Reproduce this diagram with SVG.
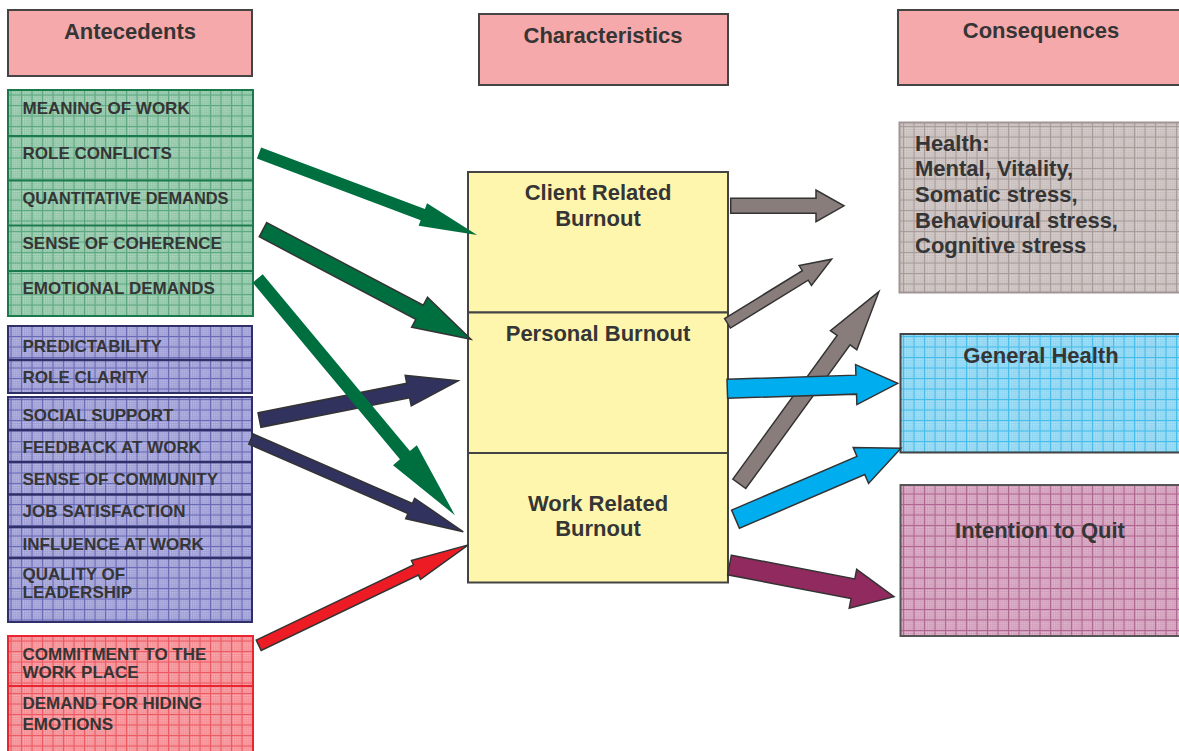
<svg xmlns="http://www.w3.org/2000/svg" width="1179" height="751" viewBox="0 0 1179 751">
<defs>
<style>
text{font-family:"Liberation Sans",Arial,sans-serif;font-weight:bold;fill:#353535}
.hd{font-size:22px;text-anchor:middle}
.it{font-size:17px}
.ct{font-size:22px;text-anchor:middle}
.lt{font-size:22px;text-anchor:start}
.hdbox{fill:#f6a9ab;stroke:#444;stroke-width:2}
.ybox{fill:#fff6ae;stroke:#444;stroke-width:2}
.gdiv{stroke:#1b7a4c;stroke-width:2}
.bdiv{stroke:#2f2f6a;stroke-width:2.5}
.rdiv{stroke:#e82530;stroke-width:2}
.arr{stroke:#333;stroke-width:1.5;stroke-linejoin:miter}
</style>
<pattern id="dots" width="2" height="2" patternUnits="userSpaceOnUse"><rect width="1" height="1" fill="#fff" opacity="0.55"/></pattern>
<pattern id="pGreen" width="10.5" height="10.5" patternUnits="userSpaceOnUse"><rect width="10.5" height="10.5" fill="#84c09e"/><rect width="10.5" height="10.5" fill="url(#dots)"/><path d="M0 0.5H10.5M0.5 0V10.5" stroke="#5ea881" stroke-width="1"/></pattern>
<pattern id="pBlue" width="10.5" height="10.5" patternUnits="userSpaceOnUse"><rect width="10.5" height="10.5" fill="#9494d2"/><rect width="10.5" height="10.5" fill="url(#dots)"/><path d="M0 0.5H10.5M0.5 0V10.5" stroke="#6a6ab6" stroke-width="1"/></pattern>
<pattern id="pRed" width="10.5" height="10.5" patternUnits="userSpaceOnUse"><rect width="10.5" height="10.5" fill="#f48289"/><rect width="10.5" height="10.5" fill="url(#dots)"/><path d="M0 0.5H10.5M0.5 0V10.5" stroke="#ec5a62" stroke-width="1"/></pattern>
<pattern id="pGray" width="10.5" height="10.5" patternUnits="userSpaceOnUse"><rect width="10.5" height="10.5" fill="#c2b8b6"/><rect width="10.5" height="10.5" fill="url(#dots)"/><path d="M0 0.5H10.5M0.5 0V10.5" stroke="#a89c9a" stroke-width="1"/></pattern>
<pattern id="pCyan" width="10.5" height="10.5" patternUnits="userSpaceOnUse"><rect width="10.5" height="10.5" fill="#80d1f1"/><rect width="10.5" height="10.5" fill="url(#dots)"/><path d="M0 0.5H10.5M0.5 0V10.5" stroke="#45bdea" stroke-width="1"/></pattern>
<pattern id="pPink" width="10.5" height="10.5" patternUnits="userSpaceOnUse"><rect width="10.5" height="10.5" fill="#cd93b4"/><rect width="10.5" height="10.5" fill="url(#dots)"/><path d="M0 0.5H10.5M0.5 0V10.5" stroke="#b06690" stroke-width="1"/></pattern>
</defs>
<rect width="1179" height="751" fill="#fff"/>

<g id="header-antecedents"><rect class="hdbox" x="8" y="10" width="244" height="66"/><text class="hd" x="130" y="38.5">Antecedents</text></g>
<g id="header-characteristics"><rect class="hdbox" x="479" y="14" width="249" height="71"/><text class="hd" x="603" y="43">Characteristics</text></g>
<g id="header-consequences"><rect class="hdbox" x="898" y="10" width="290" height="75"/><text class="hd" x="1041" y="37.5">Consequences</text></g>

<g id="antecedents-green">
<rect x="8" y="90" width="245" height="226" fill="url(#pGreen)" stroke="#1b7a4c" stroke-width="2"/>
<line class="gdiv" x1="8" y1="136" x2="253" y2="136"/><line class="gdiv" x1="8" y1="180.5" x2="253" y2="180.5"/><line class="gdiv" x1="8" y1="225.5" x2="253" y2="225.5"/><line class="gdiv" x1="8" y1="271" x2="253" y2="271"/>
<g id="meaning-of-work"><text class="it" x="22.5" y="113.5">MEANING OF WORK</text></g>
<g id="role-conflicts"><text class="it" x="22.5" y="159">ROLE CONFLICTS</text></g>
<g id="quantitative-demands"><text class="it" x="22.5" y="203.5" textLength="206" lengthAdjust="spacingAndGlyphs">QUANTITATIVE DEMANDS</text></g>
<g id="sense-of-coherence"><text class="it" x="22.5" y="248.5">SENSE OF COHERENCE</text></g>
<g id="emotional-demands"><text class="it" x="22.5" y="294">EMOTIONAL DEMANDS</text></g>
</g>

<g id="antecedents-blue-1">
<rect x="8" y="326" width="244" height="67" fill="url(#pBlue)" stroke="#2f2f6a" stroke-width="2"/>
<line class="bdiv" x1="8" y1="360" x2="252" y2="360"/>
<g id="predictability"><text class="it" x="22.5" y="351.5">PREDICTABILITY</text></g>
<g id="role-clarity"><text class="it" x="22.5" y="383">ROLE CLARITY</text></g>
</g>

<g id="antecedents-blue-2">
<rect x="8" y="397" width="244" height="225" fill="url(#pBlue)" stroke="#2f2f6a" stroke-width="2"/>
<line class="bdiv" x1="8" y1="430" x2="252" y2="430"/><line class="bdiv" x1="8" y1="462" x2="252" y2="462"/><line class="bdiv" x1="8" y1="494.5" x2="252" y2="494.5"/><line class="bdiv" x1="8" y1="527" x2="252" y2="527"/><line class="bdiv" x1="8" y1="558" x2="252" y2="558" stroke-width="4.5"/>
<g id="social-support"><text class="it" x="22.5" y="421">SOCIAL SUPPORT</text></g>
<g id="feedback-at-work"><text class="it" x="22.5" y="453">FEEDBACK AT WORK</text></g>
<g id="sense-of-community"><text class="it" x="22.5" y="484.5">SENSE OF COMMUNITY</text></g>
<g id="job-satisfaction"><text class="it" x="22.5" y="517">JOB SATISFACTION</text></g>
<g id="influence-at-work"><text class="it" x="22.5" y="549.5">INFLUENCE AT WORK</text></g>
<g id="quality-of-leadership"><text class="it" x="22.5" y="579.5">QUALITY OF</text><text class="it" x="22.5" y="598">LEADERSHIP</text></g>
</g>

<g id="antecedents-red">
<rect x="8" y="636" width="245" height="130" fill="url(#pRed)" stroke="#e82530" stroke-width="2"/>
<line class="rdiv" x1="8" y1="686" x2="253" y2="686"/>
<g id="commitment"><text class="it" x="22.5" y="659.5">COMMITMENT TO THE</text><text class="it" x="22.5" y="678">WORK PLACE</text></g>
<g id="hiding-emotions"><text class="it" x="22.5" y="708.5">DEMAND FOR HIDING</text><text class="it" x="22.5" y="729.5">EMOTIONS</text></g>
</g>

<g id="client-related-burnout"><rect class="ybox" x="468" y="172" width="260" height="140.5"/><text class="ct" x="598" y="200">Client Related</text><text class="ct" x="598" y="225.5">Burnout</text></g>
<g id="personal-burnout"><rect class="ybox" x="468" y="312.5" width="260" height="140.5"/><text class="ct" x="598" y="341">Personal Burnout</text></g>
<g id="work-related-burnout"><rect class="ybox" x="468" y="453" width="260" height="129.5"/><text class="ct" x="598" y="510.5">Work Related</text><text class="ct" x="598" y="536">Burnout</text></g>

<g id="health"><rect x="899.5" y="122.5" width="290" height="170" fill="url(#pGray)" stroke="#a09594" stroke-width="2"/>
<text class="lt" x="915" y="150.7">Health:</text>
<text class="lt" x="915" y="176.3">Mental, Vitality,</text>
<text class="lt" x="915" y="202">Somatic stress,</text>
<text class="lt" x="915" y="227.7">Behavioural stress,</text>
<text class="lt" x="915" y="253.3">Cognitive stress</text></g>
<g id="general-health"><rect x="900.5" y="334" width="290" height="118.5" fill="url(#pCyan)" stroke="#444" stroke-width="2"/><text class="ct" x="1041" y="362.7">General Health</text></g>
<g id="intention-to-quit"><rect x="900.5" y="485" width="290" height="151" fill="url(#pPink)" stroke="#555" stroke-width="2"/><text class="ct" x="1040" y="538.3">Intention to Quit</text></g>

<g id="connectors">
<polygon fill="#32325f" class="arr" points="0,-7.4 151.6,-7.4 151.6,-15.6 202.6,0 151.6,15.6 151.6,7.4 0,7.4" transform="translate(259.5,420) rotate(-11.2)"/>
<polygon fill="#32325f" class="arr" points="0,-5.5 173.7,-5.5 173.7,-11.2 231.7,0 173.7,11.2 173.7,5.5 0,5.5" transform="translate(251,439) rotate(23.6)"/>
<polygon fill="#006f40" points="0,-6 175,-6 175,-12 233,0 175,12 175,6 0,6" transform="translate(259,153) rotate(20.6)"/>
<polygon fill="#006f40" class="arr" points="0,-8 177,-8 177,-17 235,0 177,17 177,8 0,8" transform="translate(263,229.7) rotate(27.8)"/>
<polygon fill="#006f40" points="0,-6.5 230,-6.5 230,-15.5 308,0 230,15.5 230,6.5 0,6.5" transform="translate(257.7,278.5) rotate(50.2)"/>
<polygon fill="#ed1c24" class="arr" points="0,-5.7 174.4,-5.7 174.4,-10.4 232.4,0 174.4,10.4 174.4,5.7 0,5.7" transform="translate(258.7,645.3) rotate(-25.6)"/>
<polygon fill="#887d7b" class="arr" points="0,-7.5 85.3,-7.5 85.3,-15.8 113.3,0 85.3,15.8 85.3,7.5 0,7.5" transform="translate(730.7,205.8)"/>
<polygon fill="#887d7b" class="arr" points="0,-5.6 91.3,-5.6 91.3,-11.8 122.3,0 91.3,11.8 91.3,5.6 0,5.6" transform="translate(727.5,323.3) rotate(-31.6)"/>
<polygon fill="#887d7b" class="arr" points="0,-8 177.5,-8 177.5,-16.3 237.5,0 177.5,16.3 177.5,8 0,8" transform="translate(739.3,483.8) rotate(-54)"/>
<polygon fill="#00aeef" class="arr" points="0,-9.5 129,-9.5 129,-20 170.5,0 129,20 129,9.5 0,9.5" transform="translate(727.3,388.8) rotate(-1.85)"/>
<polygon fill="#00aeef" class="arr" points="0,-9.9 136.4,-9.9 136.4,-19.5 180,0 136.4,19.5 136.4,9.9 0,9.9" transform="translate(735.5,519.2) rotate(-23.2)"/>
<polygon fill="#912a5e" class="arr" points="0,-10 125.7,-10 125.7,-19.7 167.5,0 125.7,19.7 125.7,10 0,10" transform="translate(729.5,565) rotate(10.9)"/>
</g>
</svg>
